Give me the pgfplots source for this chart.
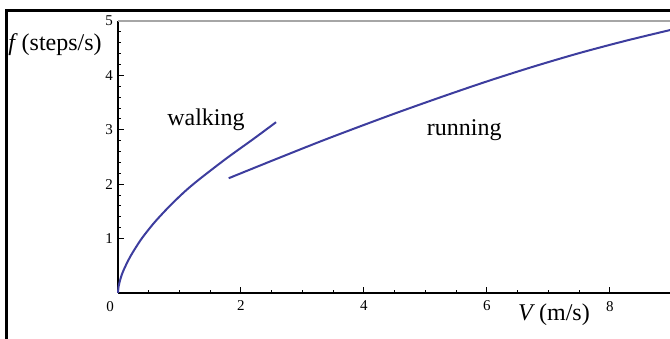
\documentclass[border=0pt]{standalone}
\usepackage{fontspec}
\setmainfont{Liberation Serif}
\usepackage{pgfplots}
\pgfplotsset{compat=1.18}
\definecolor{mblue}{rgb}{0.24,0.24,0.62}
\newcommand{\tl}[1]{{\fontsize{7.5}{8}\selectfont #1}}
\begin{document}
\begin{tikzpicture}
\useasboundingbox (0,0) rectangle (335pt,169pt);
\begin{axis}[
  at={(59pt,22.5pt)}, anchor=south west,
  scale only axis, width=276.75pt, height=136pt,
  xmin=0, xmax=9, ymin=0, ymax=5,
  axis x line*=bottom, axis y line*=left,
  axis line style={black, line width=0.6pt, -},
  xtick={0,2,4,6,8}, ytick={1,2,3,4,5},
  xticklabels={\tl{\kern-8pt 0},\tl{2},\tl{4},\tl{6},\tl{8}},
  yticklabels={\tl{1},\tl{2},\tl{3},\tl{4},\tl{5}},
  minor x tick num=3, minor y tick num=4,
  tick align=inside, major tick length=3.2pt, minor tick length=1.7pt,
  tick style={black, line width=0.5pt},
  xticklabel style={yshift=-0.5pt},
  yticklabel style={xshift=1pt},
  clip=false,
]
\draw[gray!70, line width=0.7pt] (axis cs:0,5) -- (axis cs:9.3,5);
\addplot[mblue, line width=1pt, smooth] coordinates {
(0,0) (0.01,0.12) (0.04,0.26) (0.087,0.41) (0.2,0.67) (0.36,0.96) (0.5,1.17) (0.634,1.35) (0.85,1.61) (1.1,1.88) (1.333,2.1) (1.77,2.48) (2.2,2.83) (2.57,3.14)
};
\addplot[mblue, line width=1pt, smooth] coordinates {
(1.8,2.11) (2.5,2.43) (3.3,2.79) (4.0,3.09) (4.6,3.34) (5.3,3.62) (6.0,3.89) (6.75,4.16) (7.5,4.41) (8.25,4.635) (9.0,4.84)
};
\node[font=\fontsize{12}{14}\selectfont] at (axis cs:1.43,3.18) {walking};
\node[font=\fontsize{12}{14}\selectfont] at (axis cs:5.63,3.0) {running};
\end{axis}
\node[font=\fontsize{12}{14}\selectfont] at (27.5pt,146.5pt) {\textit{f}\,(steps/s)};
\node[font=\fontsize{12}{14}\selectfont] at (277pt,11.5pt) {\textit{V}\,(m/s)};
\draw[black, line width=1.2pt] (3.25pt,-5pt) -- (3.25pt,163.75pt) -- (345pt,163.75pt);
\end{tikzpicture}
\end{document}
